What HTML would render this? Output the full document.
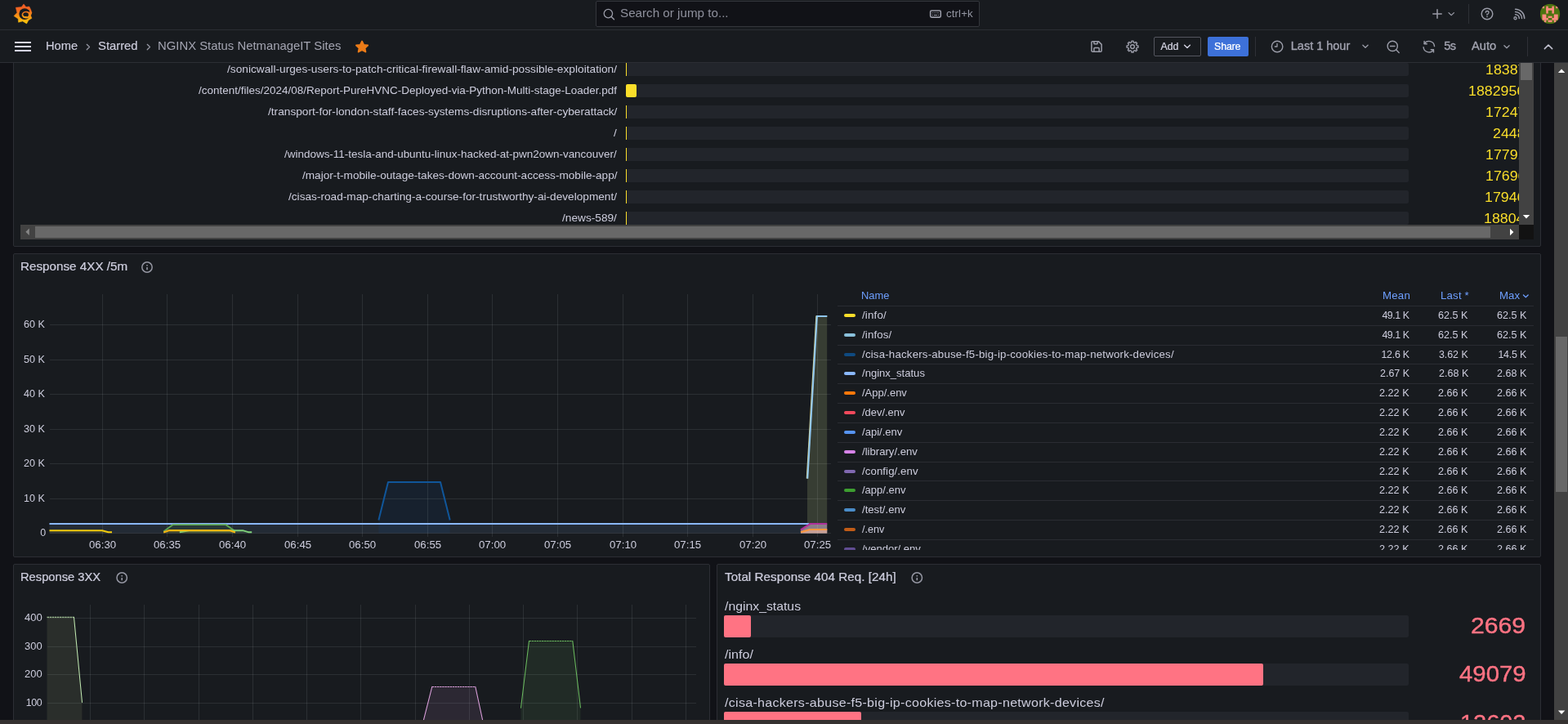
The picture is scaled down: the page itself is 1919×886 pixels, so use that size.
<!DOCTYPE html>
<html lang="en">
<head>
<meta charset="utf-8">
<title>NGINX Status NetmanageIT Sites - Dashboards - Grafana</title>
<style>
*{box-sizing:content-box;margin:0;padding:0}
html,body{width:1919px;height:886px;overflow:hidden;background:#111217}
body{font-family:"Liberation Sans",sans-serif;font-size:14px;color:#ccccdc;position:relative}
#app{position:absolute;left:0;top:0;width:1919px;height:886px;overflow:hidden}
.abs,.t,.panel,svg.abs{position:absolute}
.t{white-space:nowrap;line-height:1;display:block;transform-origin:0 50%}
h1.t,h2.t{font-weight:400}
.canvas{position:absolute;left:0;top:0;width:1902px;height:881px;overflow:hidden}
.panel{position:absolute;background:#181b1f;border:1px solid #2c2e34;border-radius:2px;overflow:hidden}
.topnav{position:absolute;left:0;top:0;width:1919px;height:36px;background:#181b1f;border-bottom:1px solid #2c2e34;z-index:5}
.toolbar{position:absolute;left:0;top:37px;width:1919px;height:39px;background:#181b1f;border-bottom:1px solid #2c2e34;z-index:5}
.search{position:absolute;left:729px;top:1px;width:468px;height:30px;background:#111217;border:1px solid #34363c;border-radius:2px}
.btn{position:absolute;border-radius:2px}
ul,li{list-style:none}

</style>
</head>
<body>
<div id="app">
<nav class="topnav" aria-label="Top navigation">
<svg class="abs" style="left:12px;top:1px" width="32" height="32" viewBox="0 0 32 32"><defs><linearGradient id="gl" gradientUnits="userSpaceOnUse" x1="0" y1="4" x2="0" y2="28"><stop offset="0" stop-color="#f05a28"/><stop offset=".3" stop-color="#f2681f"/><stop offset="1" stop-color="#fbca0a"/></linearGradient></defs><polygon points="17.0,3.9 19.9,7.6 23.8,7.0 25.6,10.6 26.9,14.4 25.5,18.0 27.0,21.3 22.9,23.8 20.6,27.9 15.6,24.9 10.6,26.3 10.2,22.0 5.0,18.6 8.9,14.6 7.3,8.2 14.3,7.6" fill="url(#gl)" stroke="url(#gl)" stroke-width=".5" stroke-linejoin="round"/><circle cx="18.2" cy="16.1" r="6.9" fill="#181b1f"/><ellipse cx="20.1" cy="17.1" rx="5.5" ry="4.4" fill="url(#gl)"/><path d="M25.3 12.2 L27 14.4 L25.6 18.2 L24.6 19.8 L24 14 Z" fill="url(#gl)"/><ellipse cx="19.6" cy="17.0" rx="3.3" ry="2.8" fill="#181b1f"/><path d="M16.6 18.6 Q18.3 20.4 20.2 19.4" fill="none" stroke="#f6a313" stroke-width="1.2" stroke-linecap="round"/></svg>
<div class="search" role="search">
<svg class="abs" style="left:7px;top:7px" width="16" height="16" viewBox="0 0 16 16"><circle cx="7.4" cy="7.6" r="5.2" fill="none" stroke="#9a9ca8" stroke-width="1.3"/><path d="M11.2 11.4 L14.5 14.7" stroke="#9a9ca8" stroke-width="1.4" stroke-linecap="round"/></svg>
<span class="t" style="left:28.50px;top:7px;font-size:14.5px;color:#8e909c;transform:scaleX(1.0478);">Search or jump to...</span>
<svg class="abs" style="left:407px;top:8px" width="16" height="14" viewBox="0 0 16 14"><rect x="1.65" y="3" width="12.65" height="8.1" rx="1.5" fill="none" stroke="#9a9ca8" stroke-width="1.6"/><path d="M3.8 5.75h1M5.9 5.75h1M8 5.75h1M10.1 5.75h1.6M3.8 8.5h1M6 8.5h3.9M10.9 8.5h1" stroke="#9a9ca8" stroke-width="1.1"/></svg>
<span class="t" style="left:427.50px;top:9px;font-size:12.4px;color:#9597a3;letter-spacing:0.111px;transform:scaleX(1.0700);">ctrl+k</span>
</div>
<svg class="abs" style="left:1751px;top:9px" width="16" height="16" viewBox="0 0 16 16"><path d="M8 2.8v10.4M2.8 8h10.4" stroke="#9a9ca8" stroke-width="1.5" stroke-linecap="round"/></svg>
<svg class="abs" style="left:1771px;top:13px" width="10" height="8" viewBox="0 0 10 8"><path d="M2 2.6 L5.2 5.6 L8.4 2.6" fill="none" stroke="#9a9ca8" stroke-width="1.3" stroke-linecap="round" stroke-linejoin="round"/></svg>
<div class="abs" style="left:1797px;top:5px;width:1px;height:24px;background:#2e3036;"></div>
<svg class="abs" style="left:1812px;top:9px" width="16" height="16" viewBox="0 0 16 16"><circle cx="8" cy="8" r="6.8" fill="none" stroke="#9a9ca8" stroke-width="1.45"/><path d="M6.2 6.3 A1.9 1.9 0 1 1 8 8.3 V9.3" fill="none" stroke="#9a9ca8" stroke-width="1.3" stroke-linecap="round"/><circle cx="8" cy="11.4" r=".8" fill="#9a9ca8"/></svg>
<svg class="abs" style="left:1851px;top:10px" width="17" height="17" viewBox="0 0 17 17"><circle cx="3.5" cy="12.3" r="1.55" fill="none" stroke="#9a9ca8" stroke-width="1.3"/><path d="M3.6 7.7 A4.8 4.8 0 0 1 8.3 12.4 M3.6 4.5 A8 8 0 0 1 11.5 12.4 M3.6 1.3 A11.2 11.2 0 0 1 14.7 12.4" fill="none" stroke="#9a9ca8" stroke-width="1.5" stroke-linecap="round"/></svg>
<svg class="abs" style="left:1884px;top:4px" width="26" height="26" viewBox="0 0 26 26"><g transform="translate(0.8 0.6)"><defs><clipPath id="avc"><circle cx="12.2" cy="12.4" r="12.2"/></clipPath></defs><g clip-path="url(#avc)"><rect width="25" height="25" fill="#4c7410"/><rect x="2.68" y="2.99" width="2.54" height="2.65" fill="#ff8a80"/><rect x="19.34" y="2.99" width="2.54" height="2.65" fill="#ff8a80"/><rect x="7.44" y="2.99" width="2.54" height="8.99" fill="#ff8a80"/><rect x="14.58" y="2.99" width="2.54" height="8.99" fill="#ff8a80"/><rect x="7.44" y="5.48" width="9.68" height="2.65" fill="#ff8a80"/><rect x="2.68" y="12.97" width="4.92" height="7.07" fill="#ff8a80"/><rect x="7.44" y="17.38" width="2.54" height="2.65" fill="#ff8a80"/><rect x="5.06" y="19.87" width="2.54" height="2.85" fill="#ff8a80"/><rect x="16.96" y="12.97" width="4.92" height="7.07" fill="#ff8a80"/><rect x="14.58" y="17.38" width="2.54" height="2.65" fill="#ff8a80"/><rect x="16.96" y="19.87" width="2.54" height="2.85" fill="#ff8a80"/><rect x="9.82" y="15.08" width="4.92" height="2.27" fill="#ff8a80"/><rect x="9.82" y="20.07" width="4.92" height="2.46" fill="#ff8a80"/></g></g></svg>
</nav>
<div class="toolbar" role="toolbar">
<svg class="abs" style="left:18px;top:14px" width="20" height="12" viewBox="0 0 20 12"><path d="M0 1h20M0 6h20M0 11h20" stroke="#d5d5e6" stroke-width="2"/></svg>
<span class="t" style="left:55.57px;top:12px;font-size:14.5px;color:#ccccdc;transform:scaleX(1.0113);-webkit-text-stroke:0.16px currentColor;">Home</span>
<svg class="abs" style="left:105px;top:15px" width="6" height="10" viewBox="0 0 6 10"><path d="M1.2 2.3 L4.5 5.55 L1.2 8.8" fill="none" stroke="#9a9ca8" stroke-width="1.2" stroke-linecap="round" stroke-linejoin="round"/></svg>
<span class="t" style="left:120.08px;top:12px;font-size:14.5px;color:#ccccdc;transform:scaleX(1.0222);-webkit-text-stroke:0.16px currentColor;">Starred</span>
<svg class="abs" style="left:179px;top:15px" width="6" height="10" viewBox="0 0 6 10"><path d="M1.2 2.3 L4.5 5.55 L1.2 8.8" fill="none" stroke="#9a9ca8" stroke-width="1.2" stroke-linecap="round" stroke-linejoin="round"/></svg>
<span class="t" style="left:193.38px;top:12px;font-size:14.5px;color:#a3a4b1;transform:scaleX(1.0246);">NGINX Status NetmanageIT Sites</span>
<svg class="abs" style="left:434px;top:12px" width="18" height="17" viewBox="0 0 18 17"><polygon points="9.05,1.50 11.25,5.79 16.17,6.48 12.61,9.81 13.45,14.52 9.05,12.30 4.65,14.52 5.49,9.81 1.93,6.48 6.85,5.79" fill="#eb7b18" stroke="#eb7b18" stroke-width="1.8" stroke-linejoin="round"/></svg>
<svg class="abs" style="left:1334px;top:12px" width="16" height="16" viewBox="0 0 16 16"><path d="M3.1 1.65 H10.4 L14.15 5.4 V12.95 A1.2 1.2 0 0 1 12.95 14.15 H3.1 A1.2 1.2 0 0 1 1.9 12.95 V2.85 A1.2 1.2 0 0 1 3.1 1.65 Z" fill="none" stroke="#9a9ca8" stroke-width="1.5" stroke-linejoin="round"/><path d="M4.9 1.7 V4 A.8 .8 0 0 0 5.7 4.8 H8.4 A.8 .8 0 0 0 9.2 4 V1.7 M4.9 14.1 V10.5 A1 1 0 0 1 5.9 9.5 H10.2 A1 1 0 0 1 11.2 10.5 V14.1" fill="none" stroke="#9a9ca8" stroke-width="1.5" stroke-linejoin="round"/></svg>
<svg class="abs" style="left:1378px;top:12px" width="17" height="17" viewBox="0 0 17 17"><g transform="translate(0 0.1)"><polygon points="6.73,2.80 6.95,1.03 9.05,1.03 9.27,2.80 10.78,3.43 12.18,2.33 13.67,3.82 12.57,5.22 13.20,6.73 14.97,6.95 14.97,9.05 13.20,9.27 12.57,10.78 13.67,12.18 12.18,13.67 10.78,12.57 9.27,13.20 9.05,14.97 6.95,14.97 6.73,13.20 5.22,12.57 3.82,13.67 2.33,12.18 3.43,10.78 2.80,9.27 1.03,9.05 1.03,6.95 2.80,6.73 3.43,5.22 2.33,3.82 3.82,2.33 5.22,3.43" fill="none" stroke="#9a9ca8" stroke-width="1.45" stroke-linejoin="round"/><circle cx="8" cy="8" r="2.4" fill="none" stroke="#9a9ca8" stroke-width="1.45"/></g></svg>
<div class="btn" role="button" style="left:1412px;top:8px;width:56px;height:22px;border:1px solid #54565f">
<span class="t" style="left:7.52px;top:5px;font-size:12.4px;color:#d3d3e2;letter-spacing:-0.048px;-webkit-text-stroke:0.24px currentColor;">Add</span>
<svg class="abs" style="left:35px;top:7px" width="10" height="8" viewBox="0 0 10 8"><path d="M1.6 2.3 L5 5.6 L8.4 2.3" fill="none" stroke="#d3d3e2" stroke-width="1.4" stroke-linecap="round" stroke-linejoin="round"/></svg>
</div>
<div class="btn" role="button" style="left:1478px;top:8px;width:50px;height:24px;background:#3d71d9">
<span class="t" style="left:8.12px;top:6px;font-size:12.4px;color:#ffffff;letter-spacing:-0.178px;-webkit-text-stroke:0.24px currentColor;">Share</span>
</div>
<div class="abs" style="left:1536px;top:8px;width:1px;height:24px;background:#2e3036;"></div>
<svg class="abs" style="left:1555px;top:12px" width="16" height="16" viewBox="0 0 16 16"><circle cx="8.1" cy="8" r="6.75" fill="none" stroke="#9a9ca8" stroke-width="1.4"/><path d="M8 4.3 V8 H5.3" fill="none" stroke="#9a9ca8" stroke-width="1.3" stroke-linecap="round" stroke-linejoin="round"/></svg>
<span class="t" style="left:1579.77px;top:12px;font-size:14.5px;color:#a3a4b1;letter-spacing:-0.006px;-webkit-text-stroke:0.34px currentColor;">Last 1 hour</span>
<svg class="abs" style="left:1666px;top:16px" width="10" height="8" viewBox="0 0 10 8"><path d="M1.9 2.3 L5 5.3 L8.1 2.3" fill="none" stroke="#9a9ca8" stroke-width="1.3" stroke-linecap="round" stroke-linejoin="round"/></svg>
<svg class="abs" style="left:1697px;top:12px" width="17" height="17" viewBox="0 0 17 17"><circle cx="7.25" cy="7.4" r="6.1" fill="none" stroke="#9a9ca8" stroke-width="1.4"/><path d="M4.5 7.45 H10 M11.6 11.8 L15.2 15.4" fill="none" stroke="#9a9ca8" stroke-width="1.4" stroke-linecap="round"/></svg>
<svg class="abs" style="left:1741px;top:12px" width="16" height="17" viewBox="0 0 16 17"><path d="M2.3 4.35 A6.7 6.7 0 0 1 14.5 7.6 M13.3 12.05 A6.7 6.7 0 0 1 1.13 8.8" fill="none" stroke="#9a9ca8" stroke-width="1.4" stroke-linecap="round"/><path d="M2.1 1.5 V4.7 H5.3 M13.5 14.9 V11.7 H10.3" fill="none" stroke="#9a9ca8" stroke-width="1.4" stroke-linecap="round" stroke-linejoin="round"/></svg>
<span class="t" style="left:1767.37px;top:12px;font-size:14.5px;color:#a3a4b1;letter-spacing:-0.704px;-webkit-text-stroke:0.34px currentColor;">5s</span>
<span class="t" style="left:1800.87px;top:12px;font-size:14.5px;color:#a3a4b1;transform:scaleX(1.0133);-webkit-text-stroke:0.34px currentColor;">Auto</span>
<svg class="abs" style="left:1839px;top:16px" width="10" height="8" viewBox="0 0 10 8"><path d="M1.9 2.7 L5 5.7 L8.1 2.7" fill="none" stroke="#9a9ca8" stroke-width="1.3" stroke-linecap="round" stroke-linejoin="round"/></svg>
<div class="abs" style="left:1869px;top:8px;width:1px;height:24px;background:#2e3036;"></div>
<svg class="abs" style="left:1889px;top:16px" width="12" height="8" viewBox="0 0 12 8"><path d="M1.4 6.6 L6 2 L10.6 6.6" fill="none" stroke="#c0c1cf" stroke-width="1.6" stroke-linecap="round" stroke-linejoin="round"/></svg>
</div>
<main class="canvas">
<section class="panel" style="left:16px;top:30px;width:1868px;height:270px;">
<ul class="bg-list">
<li>
<span class="t" style="left:261.10px;top:48px;font-size:12.8px;color:#ccccdc;letter-spacing:0.008px;transform:scaleX(1.0700);">/sonicwall-urges-users-to-patch-critical-firewall-flaw-amid-possible-exploitation/</span>
<div class="abs" style="left:749px;top:46px;width:958px;height:16px;background:#22252b;border-radius:2px;"></div>
<div class="abs" style="left:748.7px;top:46px;width:1.6px;height:16px;background:#fade2a;"></div>
<span class="t" style="left:1800.84px;top:47px;font-size:16.8px;color:#fade2a;transform:scaleX(1.0600);">18387</span>
</li>
<li>
<span class="t" style="left:226.10px;top:74px;font-size:12.8px;color:#ccccdc;transform:scaleX(1.0540);">/content/files/2024/08/Report-PureHVNC-Deployed-via-Python-Multi-stage-Loader.pdf</span>
<div class="abs" style="left:749px;top:72px;width:958px;height:16px;background:#22252b;border-radius:2px;"></div>
<div class="abs" style="left:749px;top:72px;width:13px;height:16px;background:#fade2a;border-radius:2px;"></div>
<span class="t" style="left:1780.24px;top:73px;font-size:16.8px;color:#fade2a;transform:scaleX(1.0600);">1882956</span>
</li>
<li>
<span class="t" style="left:310.75px;top:100px;font-size:12.8px;color:#ccccdc;transform:scaleX(1.0699);">/transport-for-london-staff-faces-systems-disruptions-after-cyberattack/</span>
<div class="abs" style="left:749px;top:98px;width:958px;height:16px;background:#22252b;border-radius:2px;"></div>
<div class="abs" style="left:748.7px;top:98px;width:1.6px;height:16px;background:#fade2a;"></div>
<span class="t" style="left:1801.34px;top:99px;font-size:16.8px;color:#fade2a;transform:scaleX(1.0600);">17247</span>
</li>
<li>
<span class="t" style="left:734.30px;top:126px;font-size:12.8px;color:#ccccdc;transform:scaleX(1.0700);">/</span>
<div class="abs" style="left:749px;top:124px;width:958px;height:16px;background:#22252b;border-radius:2px;"></div>
<div class="abs" style="left:748.7px;top:124px;width:1.6px;height:16px;background:#fade2a;"></div>
<span class="t" style="left:1809.70px;top:125px;font-size:16.8px;color:#fade2a;transform:scaleX(1.0600);">24481</span>
</li>
<li>
<span class="t" style="left:331.40px;top:152px;font-size:12.8px;color:#ccccdc;transform:scaleX(1.0518);">/windows-11-tesla-and-ubuntu-linux-hacked-at-pwn2own-vancouver/</span>
<div class="abs" style="left:749px;top:150px;width:958px;height:16px;background:#22252b;border-radius:2px;"></div>
<div class="abs" style="left:748.7px;top:150px;width:1.6px;height:16px;background:#fade2a;"></div>
<span class="t" style="left:1801.34px;top:151px;font-size:16.8px;color:#fade2a;transform:scaleX(1.0600);">17791</span>
</li>
<li>
<span class="t" style="left:352.60px;top:178px;font-size:12.8px;color:#ccccdc;transform:scaleX(1.0628);">/major-t-mobile-outage-takes-down-account-access-mobile-app/</span>
<div class="abs" style="left:749px;top:176px;width:958px;height:16px;background:#22252b;border-radius:2px;"></div>
<div class="abs" style="left:748.7px;top:176px;width:1.6px;height:16px;background:#fade2a;"></div>
<span class="t" style="left:1800.84px;top:177px;font-size:16.8px;color:#fade2a;transform:scaleX(1.0600);">17696</span>
</li>
<li>
<span class="t" style="left:336.10px;top:204px;font-size:12.8px;color:#ccccdc;transform:scaleX(1.0666);">/cisas-road-map-charting-a-course-for-trustworthy-ai-development/</span>
<div class="abs" style="left:749px;top:202px;width:958px;height:16px;background:#22252b;border-radius:2px;"></div>
<div class="abs" style="left:748.7px;top:202px;width:1.6px;height:16px;background:#fade2a;"></div>
<span class="t" style="left:1800.04px;top:203px;font-size:16.8px;color:#fade2a;transform:scaleX(1.0600);">17946</span>
</li>
<li>
<span class="t" style="left:671.20px;top:230px;font-size:12.8px;color:#ccccdc;transform:scaleX(1.0691);">/news-589/</span>
<div class="abs" style="left:749px;top:228px;width:958px;height:16px;background:#22252b;border-radius:2px;"></div>
<div class="abs" style="left:748.7px;top:228px;width:1.6px;height:16px;background:#fade2a;"></div>
<span class="t" style="left:1798.64px;top:229px;font-size:16.8px;color:#fade2a;transform:scaleX(1.0600);">18804</span>
</li>
</ul>
<div class="abs" style="left:1842px;top:46px;width:18px;height:198px;background:#424242;"></div>
<div class="abs" style="left:1844px;top:46px;width:14px;height:21px;background:#686868;"></div>
<svg class="abs" style="left:1846px;top:231px" width="10" height="7" viewBox="0 0 10 7"><g transform="translate(0.5 0.6)"><path d="M0.3 0.4 L4.5 4.8 L8.7 0.4 Z" fill="#ffffff"/></g></svg>
<div class="abs" style="left:8px;top:244px;width:1834px;height:18px;background:#424242;"></div>
<div class="abs" style="left:26px;top:246px;width:1781px;height:14px;background:#686868;"></div>
<svg class="abs" style="left:14px;top:248px" width="7" height="10" viewBox="0 0 7 10"><g transform="translate(0 0.2)"><path d="M4.8 0.3 L0.4 4.5 L4.8 8.7 Z" fill="#868686"/></g></svg>
<svg class="abs" style="left:1830px;top:248px" width="7" height="10" viewBox="0 0 7 10"><g transform="translate(0.6 0.5)"><path d="M0.4 0.3 L4.8 4.5 L0.4 8.7 Z" fill="#ffffff"/></g></svg>
<div class="abs" style="left:1842px;top:244px;width:18px;height:18px;background:#121212;"></div>
</section>
<section class="panel" style="left:16px;top:310px;width:1868px;height:370px;">
<header>
<h2 class="t" style="left:7.75px;top:8px;font-size:14.2px;color:#ccccdc;letter-spacing:0.026px;transform:scaleX(1.0700);-webkit-text-stroke:0.24px currentColor;">Response 4XX /5m</h2>
<svg class="abs" style="left:155px;top:8px" width="16" height="16" viewBox="0 0 16 16"><circle cx="8" cy="8" r="6.2" fill="none" stroke="#9597a3" stroke-width="1.5"/><rect x="7.2" y="7.9" width="1.6" height="3.3" rx=".3" fill="#9597a3"/><rect x="7.2" y="5.1" width="1.6" height="1.5" rx=".3" fill="#9597a3"/></svg>
</header>
<svg class="abs" style="left:0px;top:39px" width="1004" height="331" viewBox="17 350 1004 331"><g class="fills"><path d="M60.5 652.5 L60.5 641.0 L1012.2 641.0 L1012.2 652.5 Z" fill="#8ab8ff" fill-opacity="0.1"/><path d="M463.4 652.5 L463.4 636.6 L475.0 590.0 L539.0 590.0 L550.7 636.6 L550.7 652.5 Z" fill="#10569a" fill-opacity="0.12"/><path d="M60.5 652.5 L60.5 649.2 L125.0 649.2 L132.6 651.2 L137.0 651.2 L137.0 652.5 Z" fill="#fade2a" fill-opacity="0.08"/><path d="M200.2 652.5 L200.2 650.6 L211.7 642.1 L276.4 642.1 L286.6 649.2 L287.8 650.2 L287.8 652.5 Z" fill="#56a64b" fill-opacity="0.12"/><path d="M219.8 652.5 L219.8 651.2 L231.3 649.2 L297.0 649.2 L303.8 651.2 L308.2 651.2 L308.2 652.5 Z" fill="#96d98d" fill-opacity="0.1"/><path d="M200.2 652.5 L200.2 651.4 L207.3 649.1 L280.8 649.1 L287.9 651.4 L287.9 652.5 Z" fill="#f2a60c" fill-opacity="0.1"/><path d="M988 652.5 L988 590 L988.3 585.6 L999.9 387 L1012.2 387 L1012.2 652.5 Z" fill="#373d33"/><path d="M979.9 652.5 L979.9 648.4 L991.7 641 L1012.2 641 L1012.2 652.5 Z" fill="#8c7d87"/><path d="M980 652.5 L980 651.2 L991.2 648 L1012.2 648 L1012.2 652.5 Z" fill="#c8a096"/></g><g class="grid" fill="rgba(240,250,255,0.09)"><rect x="61" y="397" width="956" height="1"/><rect x="61" y="440" width="956" height="1"/><rect x="61" y="482" width="956" height="1"/><rect x="61" y="525" width="956" height="1"/><rect x="61" y="567" width="956" height="1"/><rect x="61" y="610" width="956" height="1"/><rect x="61" y="652" width="956" height="1"/><rect x="125" y="360" width="1" height="297"/><rect x="204" y="360" width="1" height="297"/><rect x="284" y="360" width="1" height="297"/><rect x="364" y="360" width="1" height="297"/><rect x="443" y="360" width="1" height="297"/><rect x="523" y="360" width="1" height="297"/><rect x="602" y="360" width="1" height="297"/><rect x="682" y="360" width="1" height="297"/><rect x="762" y="360" width="1" height="297"/><rect x="841" y="360" width="1" height="297"/><rect x="921" y="360" width="1" height="297"/><rect x="1000" y="360" width="1" height="297"/></g><g class="series"><path d="M463.4 636.6 L475.0 590.0 L539.0 590.0 L550.7 636.6" fill="none" stroke="#10569a" stroke-width="2" stroke-linejoin="round" /><path d="M60.5 649.2 L125.0 649.2 L132.6 651.2 L137.0 651.2" fill="none" stroke="#f2cc0c" stroke-width="2" stroke-linejoin="round" /><path d="M60.5 641.0 L990.2 641.0" fill="none" stroke="#8ab8ff" stroke-width="2" stroke-linejoin="round" /><path d="M200.2 650.6 L211.7 642.1 L276.4 642.1 L286.6 649.2 L287.8 650.2" fill="none" stroke="#5ea650" stroke-width="1.9" stroke-linejoin="round" /><path d="M219.8 651.2 L231.3 649.2 L297.0 649.2 L303.8 651.2 L308.2 651.2" fill="none" stroke="#7fd17a" stroke-width="1.9" stroke-linejoin="round" /><path d="M200.2 651.4 L207.3 649.1 L280.8 649.1 L287.9 651.4" fill="none" stroke="#f5b512" stroke-width="2.1" stroke-linejoin="round" /><path d="M987.7 585.6 L999.3 387.0 L1012.2 387.0" fill="none" stroke="#d8d28a" stroke-width="2" stroke-linejoin="round" /><path d="M988.3 585.6 L999.9 387.0 L1012.2 387.0" fill="none" stroke="#8fc6ee" stroke-width="2" stroke-linejoin="round" /><path d="M979.9 648.4 L991.7 641.0 L1012.2 641.0" fill="none" stroke="#b0309c" stroke-width="2.1" stroke-linejoin="round" /><path d="M980.0 651.2 L991.2 648.0 L1012.2 648.0" fill="none" stroke="#ff9840" stroke-width="2.1" stroke-linejoin="round" /></g></svg>
<span class="t" style="left:12.30px;top:80px;font-size:12.4px;color:#ccccdc;transform:scaleX(1.0143);">60 K</span>
<span class="t" style="left:12.30px;top:123px;font-size:12.4px;color:#ccccdc;transform:scaleX(1.0143);">50 K</span>
<span class="t" style="left:12.30px;top:165px;font-size:12.4px;color:#ccccdc;transform:scaleX(1.0143);">40 K</span>
<span class="t" style="left:12.30px;top:208px;font-size:12.4px;color:#ccccdc;transform:scaleX(1.0143);">30 K</span>
<span class="t" style="left:12.30px;top:250px;font-size:12.4px;color:#ccccdc;transform:scaleX(1.0143);">20 K</span>
<span class="t" style="left:12.30px;top:293px;font-size:12.4px;color:#ccccdc;transform:scaleX(1.0143);">10 K</span>
<span class="t" style="left:32.20px;top:335px;font-size:12.4px;color:#ccccdc;">0</span>
<span class="t" style="left:92.00px;top:350px;font-size:12.4px;color:#ccccdc;transform:scaleX(1.0670);">06:30</span>
<span class="t" style="left:171.00px;top:350px;font-size:12.4px;color:#ccccdc;transform:scaleX(1.0670);">06:35</span>
<span class="t" style="left:251.00px;top:350px;font-size:12.4px;color:#ccccdc;transform:scaleX(1.0670);">06:40</span>
<span class="t" style="left:331.00px;top:350px;font-size:12.4px;color:#ccccdc;transform:scaleX(1.0670);">06:45</span>
<span class="t" style="left:410.00px;top:350px;font-size:12.4px;color:#ccccdc;transform:scaleX(1.0670);">06:50</span>
<span class="t" style="left:490.00px;top:350px;font-size:12.4px;color:#ccccdc;transform:scaleX(1.0670);">06:55</span>
<span class="t" style="left:569.00px;top:350px;font-size:12.4px;color:#ccccdc;transform:scaleX(1.0670);">07:00</span>
<span class="t" style="left:649.00px;top:350px;font-size:12.4px;color:#ccccdc;transform:scaleX(1.0670);">07:05</span>
<span class="t" style="left:729.00px;top:350px;font-size:12.4px;color:#ccccdc;transform:scaleX(1.0670);">07:10</span>
<span class="t" style="left:808.00px;top:350px;font-size:12.4px;color:#ccccdc;transform:scaleX(1.0670);">07:15</span>
<span class="t" style="left:888.00px;top:350px;font-size:12.4px;color:#ccccdc;transform:scaleX(1.0670);">07:20</span>
<span class="t" style="left:967.00px;top:350px;font-size:12.4px;color:#ccccdc;transform:scaleX(1.0670);">07:25</span>
<div class="abs legend" style="left:1008px;top:39px;width:860px;height:323px;overflow:hidden">
<span class="t" style="left:29.16px;top:6px;font-size:12.4px;color:#6e9fff;transform:scaleX(1.0416);">Name</span>
<span class="t" style="left:666.93px;top:6px;font-size:12.4px;color:#6e9fff;letter-spacing:0.184px;transform:scaleX(1.0700);">Mean</span>
<span class="t" style="left:737.53px;top:6px;font-size:12.4px;color:#6e9fff;letter-spacing:0.164px;transform:scaleX(1.0700);">Last *</span>
<span class="t" style="left:810.23px;top:6px;font-size:12.4px;color:#6e9fff;transform:scaleX(1.0684);">Max</span>
<svg class="abs" style="left:838px;top:8px" width="9" height="8" viewBox="0 0 9 8"><path d="M1.4 3 L4.3 5.8 L7.2 3" fill="none" stroke="#6e9fff" stroke-width="1.2" stroke-linecap="round" stroke-linejoin="round"/></svg>
<div class="abs" style="left:0px;top:24px;width:852px;height:1px;background:#2a2c32;"></div>
<div class="abs" style="left:8px;top:34px;width:14px;height:4px;background:#fade2a;border-radius:2px;"></div>
<span class="t" style="left:30.20px;top:30px;font-size:12.4px;color:#ccccdc;letter-spacing:0.161px;transform:scaleX(1.0700);">/info/</span>
<span class="t" style="left:666.40px;top:30px;font-size:12.4px;color:#ccccdc;letter-spacing:-0.432px;">49.1 K</span>
<span class="t" style="left:735.30px;top:30px;font-size:12.4px;color:#ccccdc;transform:scaleX(1.0176);">62.5 K</span>
<span class="t" style="left:806.80px;top:30px;font-size:12.4px;color:#ccccdc;transform:scaleX(1.0176);">62.5 K</span>
<div class="abs" style="left:0px;top:48px;width:852px;height:1px;background:#2a2c32;"></div>
<div class="abs" style="left:8px;top:58px;width:14px;height:4px;background:#8ac1dc;border-radius:2px;"></div>
<span class="t" style="left:30.20px;top:54px;font-size:12.4px;color:#ccccdc;letter-spacing:0.130px;transform:scaleX(1.0700);">/infos/</span>
<span class="t" style="left:666.40px;top:54px;font-size:12.4px;color:#ccccdc;letter-spacing:-0.432px;">49.1 K</span>
<span class="t" style="left:735.30px;top:54px;font-size:12.4px;color:#ccccdc;transform:scaleX(1.0176);">62.5 K</span>
<span class="t" style="left:806.80px;top:54px;font-size:12.4px;color:#ccccdc;transform:scaleX(1.0176);">62.5 K</span>
<div class="abs" style="left:0px;top:72px;width:852px;height:1px;background:#2a2c32;"></div>
<div class="abs" style="left:8px;top:82px;width:14px;height:4px;background:#0f4a80;border-radius:2px;"></div>
<span class="t" style="left:30.20px;top:78px;font-size:12.4px;color:#ccccdc;letter-spacing:0.183px;transform:scaleX(1.0700);">/cisa-hackers-abuse-f5-big-ip-cookies-to-map-network-devices/</span>
<span class="t" style="left:665.40px;top:78px;font-size:12.4px;color:#ccccdc;letter-spacing:-0.232px;">12.6 K</span>
<span class="t" style="left:735.90px;top:78px;font-size:12.4px;color:#ccccdc;">3.62 K</span>
<span class="t" style="left:808.40px;top:78px;font-size:12.4px;color:#ccccdc;letter-spacing:-0.192px;">14.5 K</span>
<div class="abs" style="left:0px;top:95px;width:852px;height:1px;background:#2a2c32;"></div>
<div class="abs" style="left:8px;top:105px;width:14px;height:4px;background:#8ab8ff;border-radius:2px;"></div>
<span class="t" style="left:30.20px;top:101px;font-size:12.4px;color:#ccccdc;transform:scaleX(1.0533);">/nginx_status</span>
<span class="t" style="left:664.00px;top:101px;font-size:12.4px;color:#ccccdc;transform:scaleX(1.0066);">2.67 K</span>
<span class="t" style="left:735.50px;top:101px;font-size:12.4px;color:#ccccdc;transform:scaleX(1.0121);">2.68 K</span>
<span class="t" style="left:807.00px;top:101px;font-size:12.4px;color:#ccccdc;transform:scaleX(1.0121);">2.68 K</span>
<div class="abs" style="left:0px;top:119px;width:852px;height:1px;background:#2a2c32;"></div>
<div class="abs" style="left:8px;top:129px;width:14px;height:4px;background:#ff780a;border-radius:2px;"></div>
<span class="t" style="left:30.20px;top:125px;font-size:12.4px;color:#ccccdc;transform:scaleX(1.0479);">/App/.env</span>
<span class="t" style="left:663.40px;top:125px;font-size:12.4px;color:#ccccdc;transform:scaleX(1.0230);">2.22 K</span>
<span class="t" style="left:735.30px;top:125px;font-size:12.4px;color:#ccccdc;transform:scaleX(1.0176);">2.66 K</span>
<span class="t" style="left:806.80px;top:125px;font-size:12.4px;color:#ccccdc;transform:scaleX(1.0176);">2.66 K</span>
<div class="abs" style="left:0px;top:143px;width:852px;height:1px;background:#2a2c32;"></div>
<div class="abs" style="left:8px;top:153px;width:14px;height:4px;background:#f2495c;border-radius:2px;"></div>
<span class="t" style="left:30.20px;top:149px;font-size:12.4px;color:#ccccdc;transform:scaleX(1.0414);">/dev/.env</span>
<span class="t" style="left:663.40px;top:149px;font-size:12.4px;color:#ccccdc;transform:scaleX(1.0230);">2.22 K</span>
<span class="t" style="left:735.30px;top:149px;font-size:12.4px;color:#ccccdc;transform:scaleX(1.0176);">2.66 K</span>
<span class="t" style="left:806.80px;top:149px;font-size:12.4px;color:#ccccdc;transform:scaleX(1.0176);">2.66 K</span>
<div class="abs" style="left:0px;top:167px;width:852px;height:1px;background:#2a2c32;"></div>
<div class="abs" style="left:8px;top:177px;width:14px;height:4px;background:#5794f2;border-radius:2px;"></div>
<span class="t" style="left:30.20px;top:173px;font-size:12.4px;color:#ccccdc;transform:scaleX(1.0536);">/api/.env</span>
<span class="t" style="left:663.40px;top:173px;font-size:12.4px;color:#ccccdc;transform:scaleX(1.0230);">2.22 K</span>
<span class="t" style="left:735.30px;top:173px;font-size:12.4px;color:#ccccdc;transform:scaleX(1.0176);">2.66 K</span>
<span class="t" style="left:806.80px;top:173px;font-size:12.4px;color:#ccccdc;transform:scaleX(1.0176);">2.66 K</span>
<div class="abs" style="left:0px;top:191px;width:852px;height:1px;background:#2a2c32;"></div>
<div class="abs" style="left:8px;top:201px;width:14px;height:4px;background:#d683e8;border-radius:2px;"></div>
<span class="t" style="left:30.20px;top:197px;font-size:12.4px;color:#ccccdc;transform:scaleX(1.0610);">/library/.env</span>
<span class="t" style="left:663.40px;top:197px;font-size:12.4px;color:#ccccdc;transform:scaleX(1.0230);">2.22 K</span>
<span class="t" style="left:735.30px;top:197px;font-size:12.4px;color:#ccccdc;transform:scaleX(1.0176);">2.66 K</span>
<span class="t" style="left:806.80px;top:197px;font-size:12.4px;color:#ccccdc;transform:scaleX(1.0176);">2.66 K</span>
<div class="abs" style="left:0px;top:215px;width:852px;height:1px;background:#2a2c32;"></div>
<div class="abs" style="left:8px;top:225px;width:14px;height:4px;background:#8068b0;border-radius:2px;"></div>
<span class="t" style="left:30.20px;top:221px;font-size:12.4px;color:#ccccdc;letter-spacing:0.071px;transform:scaleX(1.0700);">/config/.env</span>
<span class="t" style="left:663.40px;top:221px;font-size:12.4px;color:#ccccdc;transform:scaleX(1.0230);">2.22 K</span>
<span class="t" style="left:735.30px;top:221px;font-size:12.4px;color:#ccccdc;transform:scaleX(1.0176);">2.66 K</span>
<span class="t" style="left:806.80px;top:221px;font-size:12.4px;color:#ccccdc;transform:scaleX(1.0176);">2.66 K</span>
<div class="abs" style="left:0px;top:238px;width:852px;height:1px;background:#2a2c32;"></div>
<div class="abs" style="left:8px;top:248px;width:14px;height:4px;background:#3d9e30;border-radius:2px;"></div>
<span class="t" style="left:30.20px;top:244px;font-size:12.4px;color:#ccccdc;transform:scaleX(1.0505);">/app/.env</span>
<span class="t" style="left:663.40px;top:244px;font-size:12.4px;color:#ccccdc;transform:scaleX(1.0230);">2.22 K</span>
<span class="t" style="left:735.30px;top:244px;font-size:12.4px;color:#ccccdc;transform:scaleX(1.0176);">2.66 K</span>
<span class="t" style="left:806.80px;top:244px;font-size:12.4px;color:#ccccdc;transform:scaleX(1.0176);">2.66 K</span>
<div class="abs" style="left:0px;top:262px;width:852px;height:1px;background:#2a2c32;"></div>
<div class="abs" style="left:8px;top:272px;width:14px;height:4px;background:#4a8cc8;border-radius:2px;"></div>
<span class="t" style="left:30.20px;top:268px;font-size:12.4px;color:#ccccdc;transform:scaleX(1.0611);">/test/.env</span>
<span class="t" style="left:663.40px;top:268px;font-size:12.4px;color:#ccccdc;transform:scaleX(1.0230);">2.22 K</span>
<span class="t" style="left:735.30px;top:268px;font-size:12.4px;color:#ccccdc;transform:scaleX(1.0176);">2.66 K</span>
<span class="t" style="left:806.80px;top:268px;font-size:12.4px;color:#ccccdc;transform:scaleX(1.0176);">2.66 K</span>
<div class="abs" style="left:0px;top:286px;width:852px;height:1px;background:#2a2c32;"></div>
<div class="abs" style="left:8px;top:296px;width:14px;height:4px;background:#c15c17;border-radius:2px;"></div>
<span class="t" style="left:30.20px;top:292px;font-size:12.4px;color:#ccccdc;transform:scaleX(1.0193);">/.env</span>
<span class="t" style="left:663.40px;top:292px;font-size:12.4px;color:#ccccdc;transform:scaleX(1.0230);">2.22 K</span>
<span class="t" style="left:735.30px;top:292px;font-size:12.4px;color:#ccccdc;transform:scaleX(1.0176);">2.66 K</span>
<span class="t" style="left:806.80px;top:292px;font-size:12.4px;color:#ccccdc;transform:scaleX(1.0176);">2.66 K</span>
<div class="abs" style="left:0px;top:310px;width:852px;height:1px;background:#2a2c32;"></div>
<div class="abs" style="left:8px;top:320px;width:14px;height:4px;background:#614d93;border-radius:2px;"></div>
<span class="t" style="left:30.20px;top:316px;font-size:12.4px;color:#ccccdc;transform:scaleX(1.0537);">/vendor/.env</span>
<span class="t" style="left:663.40px;top:316px;font-size:12.4px;color:#ccccdc;transform:scaleX(1.0230);">2.22 K</span>
<span class="t" style="left:735.30px;top:316px;font-size:12.4px;color:#ccccdc;transform:scaleX(1.0176);">2.66 K</span>
<span class="t" style="left:806.80px;top:316px;font-size:12.4px;color:#ccccdc;transform:scaleX(1.0176);">2.66 K</span>
</div>
</section>
<section class="panel" style="left:16px;top:690px;width:851px;height:370px;">
<header>
<h2 class="t" style="left:7.78px;top:8px;font-size:14.2px;color:#ccccdc;transform:scaleX(1.0359);-webkit-text-stroke:0.24px currentColor;">Response 3XX</h2>
<svg class="abs" style="left:124px;top:8px" width="17" height="17" viewBox="0 0 17 17"><g transform="translate(0.2 0)"><circle cx="8" cy="8" r="6.2" fill="none" stroke="#9597a3" stroke-width="1.5"/><rect x="7.2" y="7.9" width="1.6" height="3.3" rx=".3" fill="#9597a3"/><rect x="7.2" y="5.1" width="1.6" height="1.5" rx=".3" fill="#9597a3"/></g></svg>
</header>
<svg class="abs" style="left:0px;top:39px" width="851" height="156" viewBox="17 730 851 156"><rect x="58" y="756" width="794" height="1" fill="rgba(240,250,255,0.09)"/><rect x="58" y="791" width="794" height="1" fill="rgba(240,250,255,0.09)"/><rect x="58" y="825" width="794" height="1" fill="rgba(240,250,255,0.09)"/><rect x="58" y="860" width="794" height="1" fill="rgba(240,250,255,0.09)"/><rect x="110" y="740" width="1" height="150" fill="rgba(240,250,255,0.09)"/><rect x="176" y="740" width="1" height="150" fill="rgba(240,250,255,0.09)"/><rect x="243" y="740" width="1" height="150" fill="rgba(240,250,255,0.09)"/><rect x="309" y="740" width="1" height="150" fill="rgba(240,250,255,0.09)"/><rect x="375" y="740" width="1" height="150" fill="rgba(240,250,255,0.09)"/><rect x="441" y="740" width="1" height="150" fill="rgba(240,250,255,0.09)"/><rect x="508" y="740" width="1" height="150" fill="rgba(240,250,255,0.09)"/><rect x="574" y="740" width="1" height="150" fill="rgba(240,250,255,0.09)"/><rect x="640" y="740" width="1" height="150" fill="rgba(240,250,255,0.09)"/><rect x="706" y="740" width="1" height="150" fill="rgba(240,250,255,0.09)"/><rect x="773" y="740" width="1" height="150" fill="rgba(240,250,255,0.09)"/><rect x="839" y="740" width="1" height="150" fill="rgba(240,250,255,0.09)"/><path d="M57.5 890 L57.5 755.3 L90.5 755.3 L100.4 859.5 L100.4 890 Z" fill="#ccd9a1" fill-opacity="0.10"/><path d="M57.5 755.3 L90.5 755.3" fill="none" stroke="#c0e8b0" stroke-width="1.05" stroke-dasharray="2.5 0.6"/><path d="M90.5 755.3 L100.5 859.5" fill="none" stroke="#c0e8b0" stroke-width="1.05" stroke-linecap="round"/><path d="M518.2 890 L518.2 882 L528.8 840.4 L581.8 840.4 L590.8 882 L590.8 890 Z" fill="#e0a0e8" fill-opacity="0.10"/><path d="M518.2 882.0 L528.8 840.4" fill="none" stroke="#dca0dc" stroke-width="1.05" stroke-linecap="round"/><path d="M528.8 840.4 L581.8 840.4" fill="none" stroke="#dca0dc" stroke-width="1.05" stroke-dasharray="2.5 0.6"/><path d="M581.8 840.4 L590.8 882.0" fill="none" stroke="#dca0dc" stroke-width="1.05" stroke-linecap="round"/><path d="M637.5 890 L637.5 866.3 L647.5 784.4 L700.8 784.4 L710.5 866 L710.5 890 Z" fill="#73bf69" fill-opacity="0.10"/><path d="M637.5 866.3 L647.5 784.4" fill="none" stroke="#6ab95e" stroke-width="1.05" stroke-linecap="round"/><path d="M647.5 784.4 L700.8 784.4" fill="none" stroke="#6ab95e" stroke-width="1.05" stroke-dasharray="2.5 0.6"/><path d="M700.8 784.4 L710.5 866.0" fill="none" stroke="#6ab95e" stroke-width="1.05" stroke-linecap="round"/></svg>
<span class="t" style="left:12.80px;top:59px;font-size:12.4px;color:#ccccdc;transform:scaleX(1.0538);">400</span>
<span class="t" style="left:13.00px;top:94px;font-size:12.4px;color:#ccccdc;transform:scaleX(1.0442);">300</span>
<span class="t" style="left:13.00px;top:128px;font-size:12.4px;color:#ccccdc;transform:scaleX(1.0442);">200</span>
<span class="t" style="left:14.70px;top:163px;font-size:12.4px;color:#ccccdc;letter-spacing:-0.391px;">100</span>
</section>
<section class="panel" style="left:877px;top:690px;width:1007px;height:370px;">
<header>
<h2 class="t" style="left:9.42px;top:8px;font-size:14.2px;color:#ccccdc;letter-spacing:0.041px;transform:scaleX(1.0700);-webkit-text-stroke:0.24px currentColor;">Total Response 404 Req. [24h]</h2>
<svg class="abs" style="left:236px;top:8px" width="17" height="17" viewBox="0 0 17 17"><g transform="translate(0.3 0)"><circle cx="8" cy="8" r="6.2" fill="none" stroke="#9597a3" stroke-width="1.5"/><rect x="7.2" y="7.9" width="1.6" height="3.3" rx=".3" fill="#9597a3"/><rect x="7.2" y="5.1" width="1.6" height="1.5" rx=".3" fill="#9597a3"/></g></svg>
</header>
<ul class="bg-list">
<li>
<span class="t" style="left:9.00px;top:43px;font-size:15px;color:#ccccdc;transform:scaleX(1.0525);">/nginx_status</span>
<div class="abs" style="left:8px;top:62px;width:838px;height:27px;background:#22252b;border-radius:2px;"></div>
<div class="abs" style="left:8px;top:62px;width:33.2px;height:27px;background:#ff7383;border-radius:2px;"></div>
<span class="t" style="left:922.08px;top:62px;font-size:27px;color:#ff7383;transform:scaleX(1.1163);-webkit-text-stroke:0.4px currentColor;">2669</span>
</li>
<li>
<span class="t" style="left:9.00px;top:102px;font-size:15px;color:#ccccdc;letter-spacing:0.040px;transform:scaleX(1.0700);">/info/</span>
<div class="abs" style="left:8px;top:121px;width:838px;height:27px;background:#22252b;border-radius:2px;"></div>
<div class="abs" style="left:8px;top:121px;width:660px;height:27px;background:#ff7383;border-radius:2px;"></div>
<span class="t" style="left:907.50px;top:121px;font-size:27px;color:#ff7383;transform:scaleX(1.0869);-webkit-text-stroke:0.4px currentColor;">49079</span>
</li>
<li>
<span class="t" style="left:9.00px;top:161px;font-size:15px;color:#ccccdc;letter-spacing:0.261px;transform:scaleX(1.0700);">/cisa-hackers-abuse-f5-big-ip-cookies-to-map-network-devices/</span>
<div class="abs" style="left:8px;top:180px;width:838px;height:27px;background:#22252b;border-radius:2px;"></div>
<div class="abs" style="left:8px;top:180px;width:168.2px;height:27px;background:#ff7383;border-radius:2px;"></div>
<span class="t" style="left:908.66px;top:181px;font-size:27px;color:#ff7383;transform:scaleX(1.0713);-webkit-text-stroke:0.4px currentColor;">12602</span>
</li>
</ul>
</section>
</main>
<div class="abs" style="left:1902px;top:77px;width:17px;height:804px;background:#424242">
<svg class="abs" style="left:4px;top:7px" width="10" height="7" viewBox="0 0 10 7"><g transform="translate(0.6 0)"><path d="M0.3 4.9 L4.5 0.5 L8.7 4.9 Z" fill="#ffffff"/></g></svg>
<div class="abs" style="left:2px;top:335px;width:14px;height:190px;background:#686868;"></div>
<svg class="abs" style="left:4px;top:792px" width="10" height="7" viewBox="0 0 10 7"><g transform="translate(0.6 0)"><path d="M0.3 0.6 L4.5 5 L8.7 0.6 Z" fill="#ffffff"/></g></svg>
</div>
<div class="abs" style="left:0px;top:881px;width:1919px;height:5px;background:#353130;"></div>
</div>
</body>
</html>
